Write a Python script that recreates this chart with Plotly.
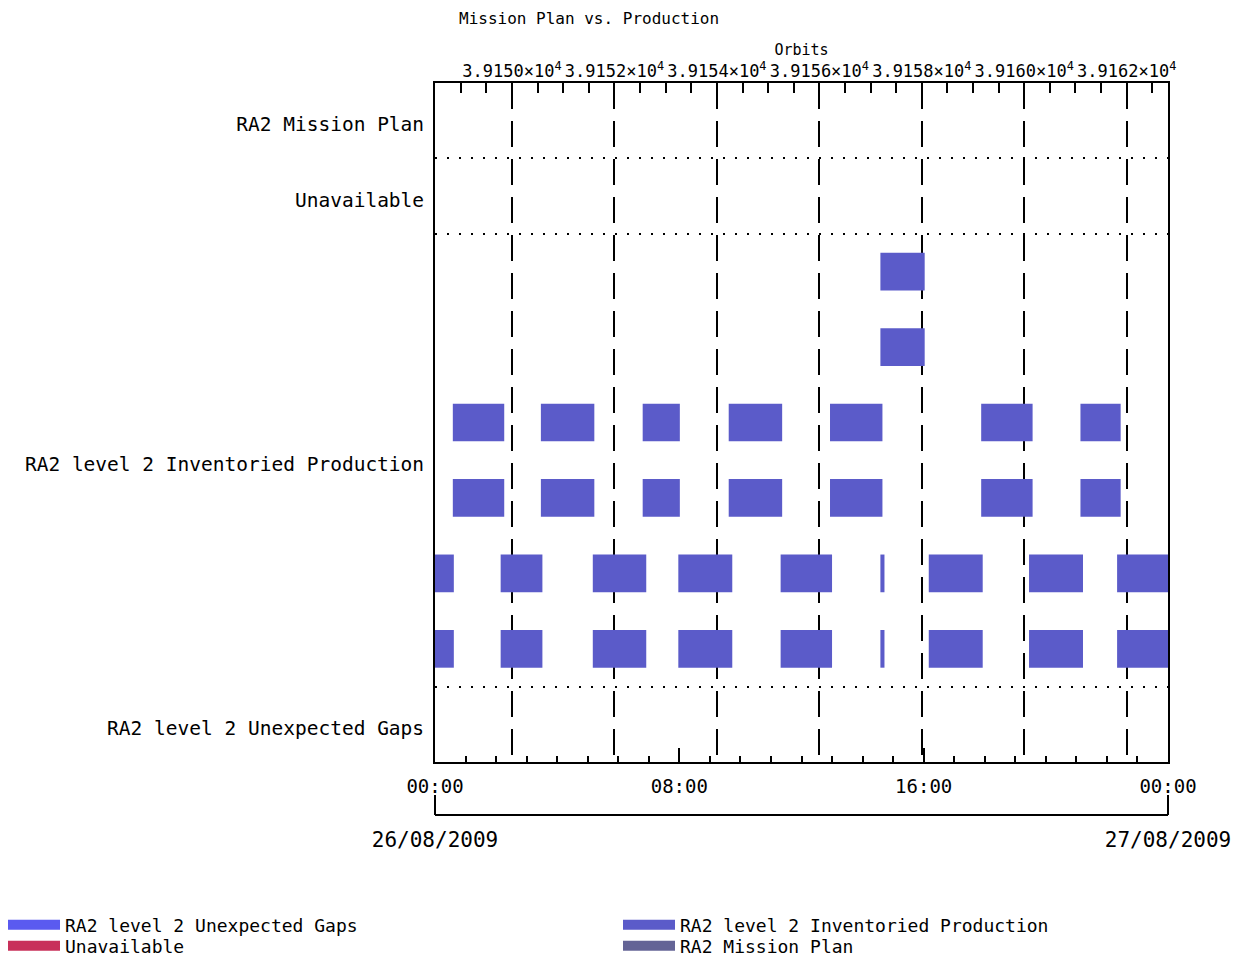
import plotly.graph_objects as go
from datetime import datetime, timedelta

# ---------------- data ----------------
DAY_START = "2009-08-26 00:00"
DAY_END = "2009-08-27 00:00"

row_labels = ["RA2 level 2 Unexpected Gaps", "RA2 level 2 Inventoried Production",
              "Unavailable", "RA2 Mission Plan"]
row_label_pos = [-0.05, 3.45, 6.95, 7.95]
separator_pos = [0.5, 6.5, 7.5]

# inventoried production sub-rows (1 = lowest) and the pass list each one uses
inv_sub_rows = [1, 2, 3, 4, 5, 6]
inv_sub_row_pass = ["A", "A", "B", "B", "C", "C"]

pass_a_start = ["00:00", "02:09", "05:10", "07:58", "11:19", "14:35", "16:10", "19:27", "22:20"]
pass_a_end = ["00:37", "03:31", "06:55", "09:44", "13:00", "14:43", "17:56", "21:13", "24:00"]
pass_b_start = ["00:35", "03:28", "06:48", "09:37", "12:56", "17:53", "21:08"]
pass_b_end = ["02:16", "05:13", "08:01", "11:22", "14:39", "19:34", "22:27"]
pass_c_start = ["14:35"]
pass_c_end = ["16:02"]

gaps_start, gaps_end = [], []
unavail_start, unavail_end = [], []
plan_start, plan_end = [], []

time_tick_labels = ["00:00", "08:00", "16:00", "00:00"]
time_tick_hours = [0, 8, 16, 24]
date_tick_labels = ["26/08/2009", "27/08/2009"]

orbit_ticks = [39150, 39152, 39154, 39156, 39158, 39160, 39162]
orbit_labels = ["3.9150×10<sup>4</sup>", "3.9152×10<sup>4</sup>", "3.9154×10<sup>4</sup>",
                "3.9156×10<sup>4</sup>", "3.9158×10<sup>4</sup>", "3.9160×10<sup>4</sup>",
                "3.9162×10<sup>4</sup>"]
orbit_range = [39148.497, 39162.806]

series_colors = {
    "RA2 level 2 Unexpected Gaps": "#5a5af0",
    "RA2 level 2 Inventoried Production": "#5b5bc9",
    "Unavailable": "#c8305a",
    "RA2 Mission Plan": "#646496",
}

# ---------------- helpers ----------------
t0 = datetime.strptime(DAY_START, "%Y-%m-%d %H:%M")


def to_dt(hhmm):
    h, m = hhmm.split(":")
    return t0 + timedelta(hours=int(h), minutes=int(m))


passes = {"A": (pass_a_start, pass_a_end), "B": (pass_b_start, pass_b_end),
          "C": (pass_c_start, pass_c_end)}

inv_base, inv_dur, inv_y = [], [], []
for row, p in zip(inv_sub_rows, inv_sub_row_pass):
    starts, ends = passes[p]
    for s, e in zip(starts, ends):
        a, b = to_dt(s), to_dt(e)
        inv_base.append(a.strftime("%Y-%m-%d %H:%M:%S"))
        inv_dur.append((b - a).total_seconds() * 1000)
        inv_y.append(row)


def seg_bar(name, starts, ends, row):
    base = [to_dt(s).strftime("%Y-%m-%d %H:%M:%S") for s in starts]
    dur = [(to_dt(e) - to_dt(s)).total_seconds() * 1000 for s, e in zip(starts, ends)]
    return go.Bar(orientation="h", base=base, x=dur, y=[row] * len(base), width=0.5,
                  marker=dict(color=series_colors[name], line=dict(width=0)),
                  name=name, legendgroup=name, showlegend=False, hoverinfo="skip",
                  xaxis="x", yaxis="y")


fig = go.Figure()
fig.add_trace(seg_bar("RA2 level 2 Unexpected Gaps", gaps_start, gaps_end, 0))
fig.add_trace(go.Bar(orientation="h", base=inv_base, x=inv_dur, y=inv_y, width=0.5,
                     marker=dict(color=series_colors["RA2 level 2 Inventoried Production"],
                                 line=dict(width=0)),
                     name="RA2 level 2 Inventoried Production",
                     legendgroup="RA2 level 2 Inventoried Production",
                     showlegend=False, hoverinfo="skip", xaxis="x", yaxis="y"))
fig.add_trace(seg_bar("Unavailable", unavail_start, unavail_end, 7))
fig.add_trace(seg_bar("RA2 Mission Plan", plan_start, plan_end, 8))

# legend swatches: one legend box per entry, arranged in a 2 x 2 grid
W, H = 1233, 960
legend_entries = ["RA2 level 2 Unexpected Gaps", "Unavailable",
                  "RA2 level 2 Inventoried Production", "RA2 Mission Plan"]
legend_ids = ["legend", "legend2", "legend3", "legend4"]
legend_px = [(3, 925), (3, 946), (618, 925), (618, 946)]
for name, lid in zip(legend_entries, legend_ids):
    fig.add_trace(go.Scatter(x=[None], y=[None], mode="lines", name=name, legendgroup=name,
                             legend=lid, line=dict(color=series_colors[name], width=14),
                             xaxis="x", yaxis="y"))

# anchor traces so overlay axes are drawn
fig.add_trace(go.Scatter(x=orbit_range, y=[-10, -10], mode="markers", marker=dict(opacity=0),
                         showlegend=False, hoverinfo="skip", xaxis="x2", yaxis="y"))
fig.add_trace(go.Scatter(x=[DAY_START, DAY_END], y=[-10, -10], mode="markers",
                         marker=dict(opacity=0), showlegend=False, hoverinfo="skip",
                         xaxis="x3", yaxis="y"))
fig.add_trace(go.Scatter(x=[DAY_START, DAY_END], y=[-10, -10], mode="markers",
                         marker=dict(opacity=0), showlegend=False, hoverinfo="skip",
                         xaxis="x4", yaxis="y"))

# ---------------- layout ----------------
ML, MR, MT, MB = 435, 65, 83, 130
plot_h = H - MT - MB
y_bottom_px = 762
bracket_px = 815
ydom0 = ((H - MB) - y_bottom_px) / plot_h
bracket_pos = ((H - MB) - bracket_px) / plot_h

FONT = "DejaVu Sans Mono"
time_tickvals = [(t0 + timedelta(hours=h)).strftime("%Y-%m-%d %H:%M") for h in time_tick_hours]

legend_layouts = {}
for lid, (px, py) in zip(legend_ids, legend_px):
    legend_layouts[lid] = dict(x=px / W, xref="container", xanchor="left",
                               y=1 - py / H, yref="container", yanchor="middle",
                               itemwidth=52, font=dict(size=18, family=FONT),
                               bgcolor="rgba(0,0,0,0)", borderwidth=0)

fig.update_layout(
    width=W, height=H,
    margin=dict(l=ML, r=MR, t=MT, b=MB, pad=0, autoexpand=False),
    paper_bgcolor="white", plot_bgcolor="white",
    font=dict(family=FONT, color="black", size=17),
    barmode="overlay",
    title=dict(text="Mission Plan vs. Production", font=dict(size=16, family=FONT),
               x=(459 - ML) / (W - ML - MR), xref="paper", xanchor="left",
               y=1 - 18 / H, yref="container", yanchor="middle", automargin=False),
    xaxis=dict(type="date", range=[DAY_START, DAY_END], domain=[0, 1], anchor="y",
               side="bottom", showline=True, linewidth=2, linecolor="black",
               ticks="inside", ticklen=14, tickwidth=2, tickcolor="black",
               tickvals=time_tickvals, ticktext=time_tick_labels,
               tickfont=dict(size=19), ticklabelstandoff=6, automargin=False,
               showgrid=False, zeroline=False,
               minor=dict(ticks="inside", ticklen=6, tickwidth=2, tickcolor="black",
                          dtick=3600000, tick0=DAY_START, showgrid=False)),
    xaxis2=dict(range=orbit_range, overlaying="x", side="top", anchor="y",
                showline=True, linewidth=2, linecolor="black",
                ticks="inside", ticklen=16, tickwidth=2, tickcolor="black",
                tickvals=orbit_ticks, ticktext=orbit_labels, tickangle=0,
                tickfont=dict(size=17), ticklabelstandoff=-3, automargin=False,
                showgrid=True, gridcolor="black", gridwidth=2, griddash="26px,12px",
                zeroline=False,
                minor=dict(ticks="inside", ticklen=10, tickwidth=2, tickcolor="black",
                           dtick=0.5, tick0=39150, showgrid=False),
                title=dict(text="Orbits", font=dict(size=15), standoff=0)),
    xaxis3=dict(type="date", range=[DAY_START, DAY_END], overlaying="x", anchor="free",
                position=bracket_pos, side="bottom",
                showline=True, linewidth=2, linecolor="black", ticks="",
                tickvals=[DAY_START, DAY_END], ticktext=date_tick_labels,
                tickfont=dict(size=21), ticklabelstandoff=6, automargin=False,
                showgrid=False, zeroline=False),
    xaxis4=dict(type="date", range=[DAY_START, DAY_END], overlaying="x", anchor="free",
                position=bracket_pos, side="top",
                showline=False, ticks="outside", ticklen=20, tickwidth=2, tickcolor="black",
                tickvals=[DAY_START, DAY_END], showticklabels=False, automargin=False,
                showgrid=False, zeroline=False),
    yaxis=dict(range=[-0.5, 8.5], domain=[ydom0, 1], showline=True, mirror=True,
               linewidth=2, linecolor="black", ticks="",
               tickvals=row_label_pos, ticktext=row_labels, tickfont=dict(size=19.5),
               ticklabelstandoff=5, showgrid=False, zeroline=False, fixedrange=True,
               automargin=False,
               minor=dict(tickvals=separator_pos, showgrid=True, gridcolor="black",
                          gridwidth=2, griddash="2px,10px", ticks="")),
    showlegend=True,
    **legend_layouts,
)

fig.write_html("out.html", post_script="document.body.style.margin='0';",
               config={"displayModeBar": False})
